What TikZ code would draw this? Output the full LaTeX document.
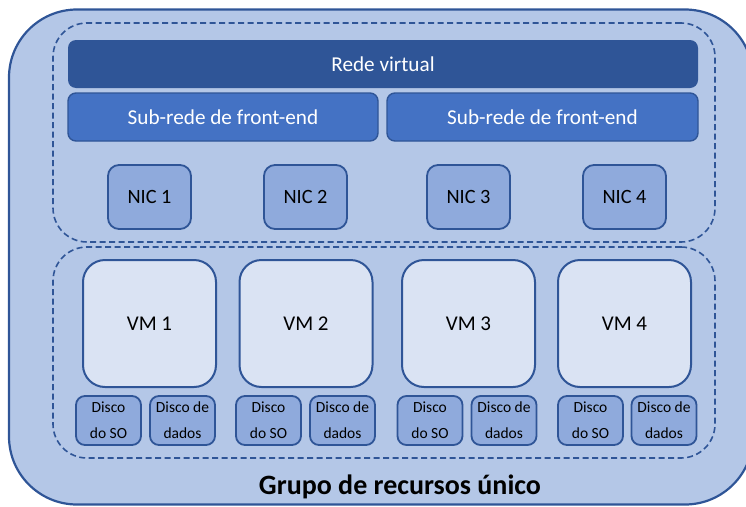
\documentclass[tikz,border=0pt]{standalone}
\usepackage{fontspec}
\setmainfont{Carlito}
\definecolor{edge}{HTML}{2F5597}
\definecolor{groupfill}{HTML}{B4C7E7}
\definecolor{vnetfill}{HTML}{2F5597}
\definecolor{subfill}{HTML}{4472C4}
\definecolor{nicfill}{HTML}{8FAADC}
\definecolor{vmfill}{HTML}{DAE3F3}
\begin{document}
\begin{tikzpicture}[x=1pt,y=-1pt,
  box/.style={rectangle,inner sep=0pt,outer sep=0pt,draw=edge,line width=1.8pt},
  rgbox/.style={box,fill=groupfill,line width=2.2pt,rounded corners=68pt},
  dashgroup/.style={box,line width=1.6pt,dash pattern=on 6pt off 3.5pt,rounded corners=34pt},
  vnet/.style={box,fill=vnetfill,draw=none,rounded corners=8pt,text=white,font=\fontsize{21.2}{25}\selectfont},
  subnet/.style={box,fill=subfill,line width=1.4pt,rounded corners=8pt,text=white,font=\fontsize{21.2}{25}\selectfont},
  nic/.style={box,fill=nicfill,rounded corners=11pt,minimum width=83pt,minimum height=64pt,font=\fontsize{20.3}{24}\selectfont},
  vm/.style={box,fill=vmfill,line width=2pt,rounded corners=22pt,minimum width=133pt,minimum height=127pt,font=\fontsize{21}{25}\selectfont},
  disk/.style={box,fill=nicfill,rounded corners=9pt,minimum width=65pt,minimum height=49pt,align=center,font=\fontsize{15.5}{26}\selectfont}]
\useasboundingbox (0,0) rectangle (746,506);
\clip (0,0) rectangle (746,506);

% resource group container
\node[rgbox,minimum width=744pt,minimum height=495pt] (rg) at (381,257) {};
\node[font=\bfseries\fontsize{28}{33}\selectfont] (rglabel) at (400,487) {Grupo de recursos único};

% network area
\node[dashgroup,minimum width=662pt,minimum height=219pt] (netgroup) at (384,132.5) {};
\node[vnet,minimum width=630pt,minimum height=48pt] (vnet) at (383,64) {Rede virtual};
\node[subnet,minimum width=310pt,minimum height=48pt] (sub1) at (223,117) {Sub-rede de front-end};
\node[subnet,minimum width=311pt,minimum height=48pt] (sub2) at (542.5,117) {Sub-rede de front-end};
\node[nic] (nic1) at (149.5,197) {NIC 1};
\node[nic] (nic2) at (305.5,197) {NIC 2};
\node[nic] (nic3) at (468.5,197) {NIC 3};
\node[nic] (nic4) at (624.5,197) {NIC 4};

% virtual machine area
\node[dashgroup,minimum width=662pt,minimum height=211pt] (vmgroup) at (384,352.5) {};
\node[vm] (vm1) at (149.5,323.5) {VM 1};
\node[vm] (vm2) at (306,323.5) {VM 2};
\node[vm] (vm3) at (468.5,323.5) {VM 3};
\node[vm] (vm4) at (624.5,323.5) {VM 4};

\node[disk] (os1) at (108.5,420.5) {Disco\\do SO};
\node[disk] (data1) at (182.5,420.5) {Disco de\\dados};
\node[disk] (os2) at (268.5,420.5) {Disco\\do SO};
\node[disk] (data2) at (342.5,420.5) {Disco de\\dados};
\node[disk] (os3) at (430,420.5) {Disco\\do SO};
\node[disk] (data3) at (504,420.5) {Disco de\\dados};
\node[disk] (os4) at (590.5,420.5) {Disco\\do SO};
\node[disk] (data4) at (664,420.5) {Disco de\\dados};
\end{tikzpicture}
\end{document}
